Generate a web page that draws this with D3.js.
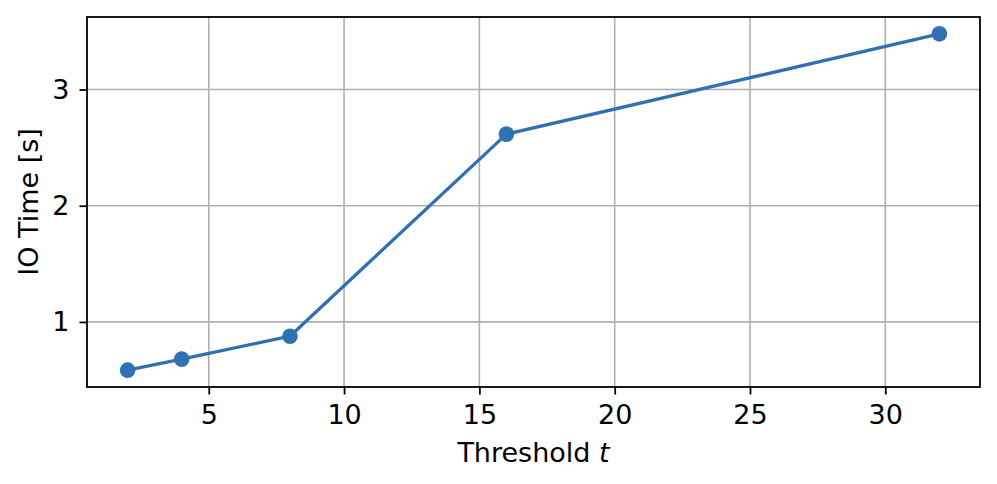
<!DOCTYPE html>
<html>
<head>
<meta charset="utf-8">
<script src="https://cdn.jsdelivr.net/npm/d3@7"></script>
<style>
  body { margin: 0; background: #fff; }
  text { font-family: "DejaVu Sans", sans-serif; fill: #000; }
</style>
</head>
<body>
<div id="chart"></div>
<script>
// data
const thresholds = [2, 4, 8, 16, 32];
const ioTimes = [0.585, 0.68, 0.877, 2.616, 3.479];
const xTicks = [5, 10, 15, 20, 25, 30];
const yTicks = [1, 2, 3];

// set the dimensions and margins of the graph
let margin = {top: 17, right: 17, bottom: 97, left: 87},
    width = 997 - margin.left - margin.right,
    height = 484 - margin.top - margin.bottom;
const lineColor = "#3171b3";
const fontSize = "27px";

let svg = d3.select("#chart")
  .append("svg")
    .attr("width", 997)
    .attr("height", 484)
  .append("g")
    .attr("transform", "translate(" + margin.left + "," + margin.top + ")");

// Scales (matplotlib style 5% padding)
let x = d3.scaleLinear().domain([0.5, 33.5]).range([0, width]);
let y = d3.scaleLinear().domain([0.44, 3.624]).range([height, 0]);

// grid
svg.append("g")
  .selectAll("line")
  .data(xTicks)
  .enter()
  .append("line")
    .attr("x1", d => x(d)).attr("x2", d => x(d))
    .attr("y1", 0).attr("y2", height)
    .attr("stroke", "#b0b0b0").attr("stroke-width", 1.6);
svg.append("g")
  .selectAll("line")
  .data(yTicks)
  .enter()
  .append("line")
    .attr("x1", 0).attr("x2", width)
    .attr("y1", d => y(d)).attr("y2", d => y(d))
    .attr("stroke", "#b0b0b0").attr("stroke-width", 1.6);

// axes
let xAxis = svg.append("g")
  .attr("transform", "translate(0," + height + ")")
  .call(d3.axisBottom(x).tickValues(xTicks).tickSize(7.5).tickPadding(10).tickFormat(d3.format("d")));
let yAxis = svg.append("g")
  .call(d3.axisLeft(y).tickValues(yTicks).tickSize(7.5).tickPadding(10).tickFormat(d3.format("d")));
[xAxis, yAxis].forEach(function(a) {
  a.select(".domain").remove();
  a.selectAll(".tick line").attr("stroke", "#000").attr("stroke-width", 1.8);
  a.selectAll(".tick text").style("font-size", fontSize).style("font-family", "DejaVu Sans");
});

// frame
svg.append("rect")
  .attr("x", 0).attr("y", 0)
  .attr("width", width).attr("height", height)
  .attr("fill", "none").attr("stroke", "#000").attr("stroke-width", 1.8);

// the line
let pts = thresholds.map((t, i) => [t, ioTimes[i]]);
svg.append("path")
  .datum(pts)
  .attr("fill", "none")
  .attr("stroke", lineColor)
  .attr("stroke-width", 3.3)
  .attr("stroke-linejoin", "round")
  .attr("d", d3.line().x(d => x(d[0])).y(d => y(d[1])));

svg.append("g")
  .selectAll("circle")
  .data(pts)
  .enter()
  .append("circle")
    .attr("cx", d => x(d[0]))
    .attr("cy", d => y(d[1]))
    .attr("r", 7.8)
    .attr("fill", lineColor);

// labels
let xl = svg.append("text")
  .attr("x", width / 2)
  .attr("y", height + 75)
  .attr("text-anchor", "middle")
  .style("font-size", fontSize);
xl.append("tspan").text("Threshold ");
xl.append("tspan").style("font-style", "italic").text("t");

svg.append("text")
  .attr("transform", "translate(" + (-58) + "," + (height / 2) + ") rotate(-90)")
  .attr("text-anchor", "middle")
  .attr("dy", "0.35em")
  .style("font-size", fontSize)
  .text("IO Time [s]");
</script>
</body>
</html>
